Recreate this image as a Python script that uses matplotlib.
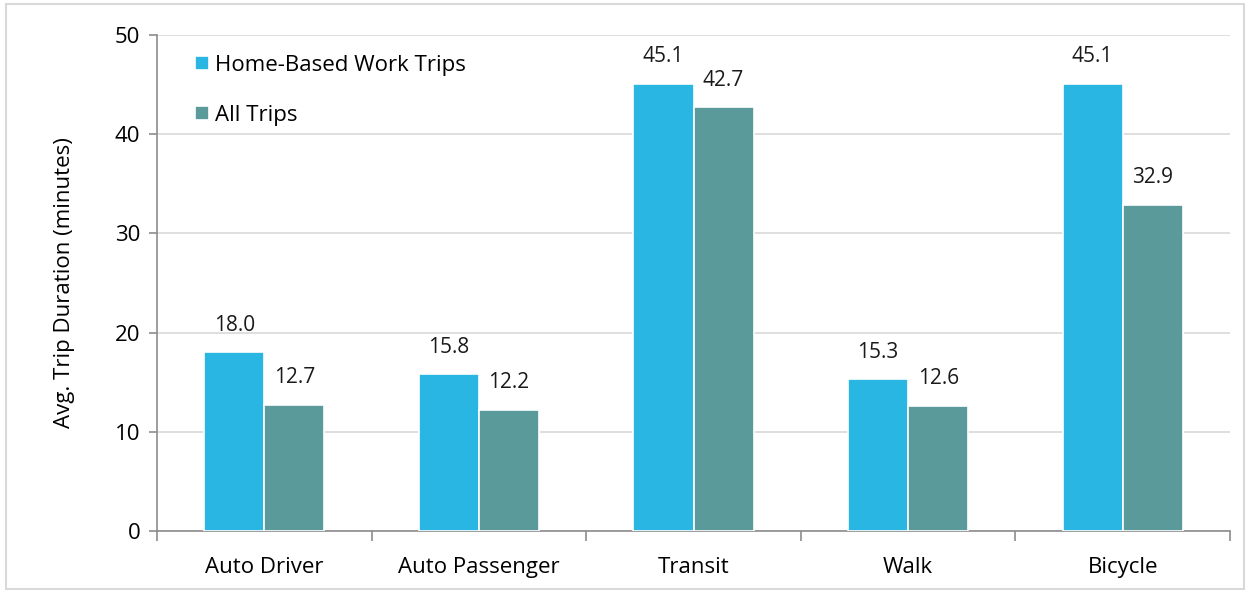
import numpy as np
import matplotlib.pyplot as plt
from matplotlib.patches import Rectangle

plt.rcParams['font.family'] = ['Open Sans', 'DejaVu Sans']

categories = ['Auto Driver', 'Auto Passenger', 'Transit', 'Walk', 'Bicycle']
hbw_trips = [18.0, 15.8, 45.1, 15.3, 45.1]
all_trips = [12.7, 12.2, 42.7, 12.6, 32.9]

blue = '#29B6E3'
teal = '#5B9A9A'

fig = plt.figure(figsize=(12.5, 5.94), dpi=100)
fig.patches.append(Rectangle((0.005, 0.008), 0.99, 0.985, transform=fig.transFigure,
                             fill=False, edgecolor='#D9D9D9', linewidth=1.5))
ax = fig.add_axes([0.1256, 0.106, 0.8584, 0.835])

x = np.arange(len(categories))
w = 0.28
b1 = ax.bar(x - w / 2, hbw_trips, w, color=blue, edgecolor='white', linewidth=1.2,
            label='Home-Based Work Trips', zorder=3)
b2 = ax.bar(x + w / 2, all_trips, w, color=teal, edgecolor='white', linewidth=1.2,
            label='All Trips', zorder=3)

for bars in (b1, b2):
    for r in bars:
        ax.annotate(f'{r.get_height():.1f}', (r.get_x() + r.get_width() / 2, r.get_height()),
                    xytext=(0, 12), textcoords='offset points', ha='center', va='bottom',
                    fontsize=15, color='#1a1a1a')

ax.set_xlim(-0.5, len(categories) - 0.5)
ax.set_ylim(0, 50)
ax.set_yticks(range(0, 51, 10))
ax.set_xticks(x)
ax.set_xticklabels(categories, fontsize=16)
ax.tick_params(axis='x', length=0, pad=19)
ax.tick_params(axis='y', labelsize=16, length=6, color='#8c8c8c', width=1.2, pad=6)
ax.set_xticks(np.arange(-0.5, len(categories), 1), minor=True)
ax.tick_params(axis='x', which='minor', length=7, color='#8c8c8c', width=1.2)

ax.grid(axis='y', color='#D9D9D9', linewidth=1.2, zorder=0)
for s in ['top', 'right']:
    ax.spines[s].set_visible(False)
ax.spines['left'].set_color('#8c8c8c')
ax.spines['bottom'].set_color('#8c8c8c')
ax.spines['left'].set_linewidth(1.2)
ax.spines['bottom'].set_linewidth(1.2)

ax.set_ylabel('Avg. Trip Duration (minutes)', fontsize=16, labelpad=29)

ax.legend(loc='upper left', bbox_to_anchor=(0.017, 1.0), frameon=False, fontsize=16,
          handlelength=0.6, handleheight=0.6, handletextpad=0.3, labelspacing=1.3)

fig.savefig('out.png', dpi=100)
